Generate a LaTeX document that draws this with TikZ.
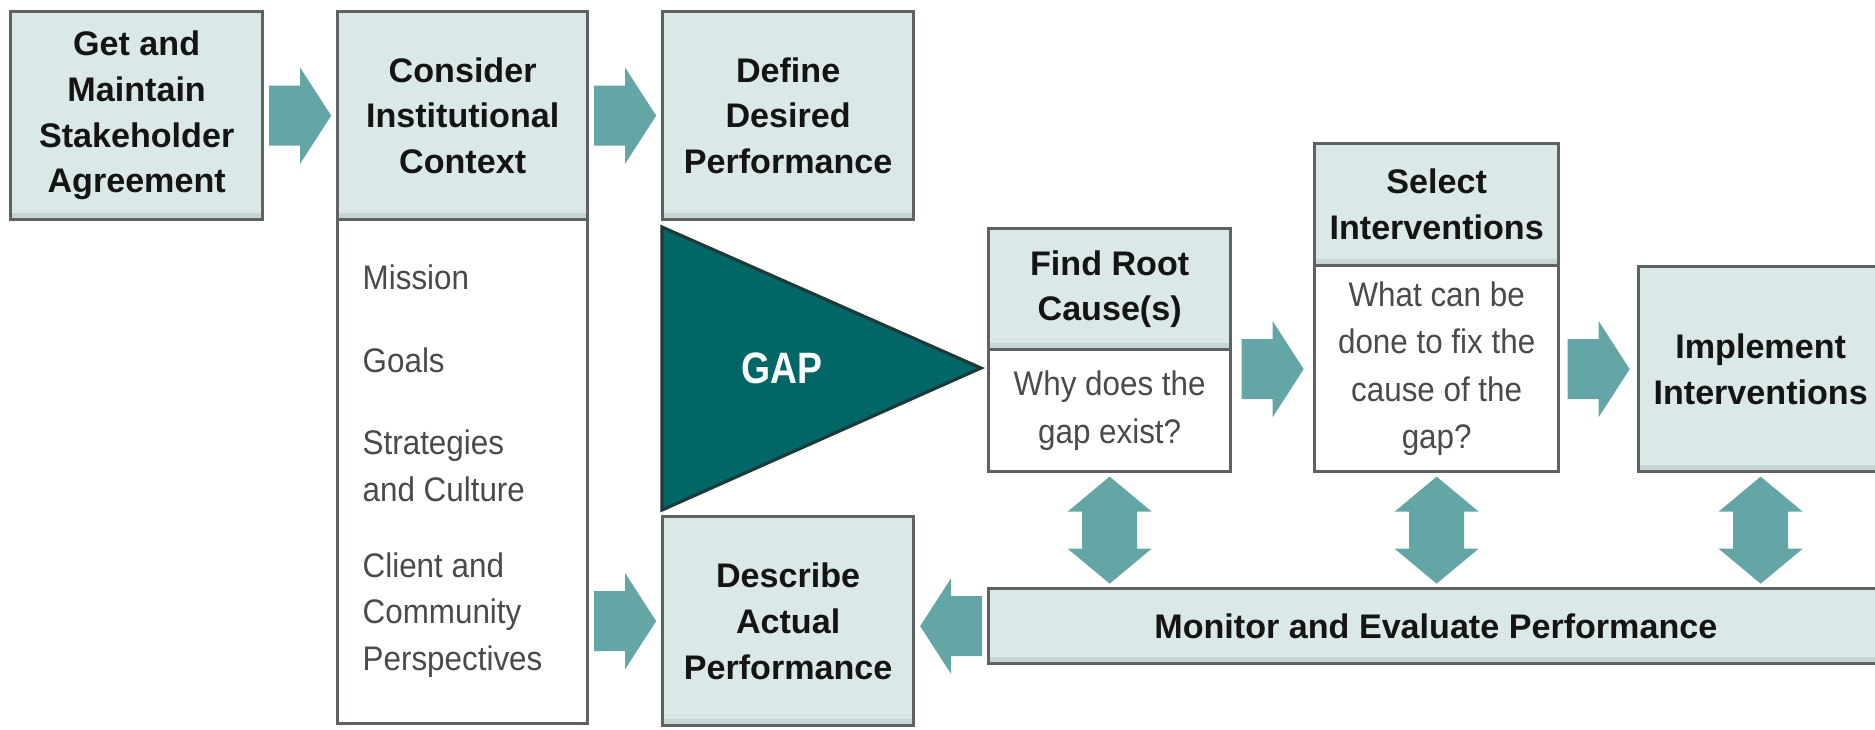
\documentclass[tikz,border=0pt]{standalone}
\usepackage{fontspec}
\setmainfont{Liberation Sans}
\newfontfamily\narrowfont[FakeStretch=0.92]{Liberation Sans}
\newfontfamily\gapfont[FakeStretch=0.85]{Liberation Sans}
\usetikzlibrary{calc}

\definecolor{boxfill}{HTML}{DAE8E8}
\definecolor{boxband}{HTML}{C6D6D6}
\definecolor{boxline}{HTML}{5E6262}
\definecolor{flowteal}{HTML}{64A6A6}
\definecolor{gapteal}{HTML}{006666}
\definecolor{gapline}{HTML}{1C3A3A}
\definecolor{bodytext}{HTML}{4A4A4A}

\tikzset{
  panel/.style={draw=boxline, line width=0.9pt, anchor=north west, inner sep=0pt, align=center},
  headbox/.style={panel, fill=boxfill, text=black!92,
    font=\fontsize{9.7}{13}\selectfont\bfseries,
    path picture={\fill[boxband]
      ($(path picture bounding box.south west)+(0,0.02cm)$) rectangle
      ($(path picture bounding box.south east)+(0,0.07cm)$);}},
  bodybox/.style={panel, fill=white, text=bodytext,
    font=\narrowfont\fontsize{9.7}{13.4}\selectfont},
  listitem/.style={anchor=west, inner sep=0pt, align=left, text=bodytext,
    font=\narrowfont\fontsize{9.7}{13.2}\selectfont},
  flow/.style={fill=flowteal},
}

% single block arrow, centred between two points and pointing from #1 to #2
\newcommand\blockarrow[2]{%
  \coordinate (ba-m) at ($#1!0.5!#2$);
  \coordinate (ba-t) at ($(ba-m)!0.31cm!#1$);
  \coordinate (ba-h) at ($(ba-m)!0.31cm!#2$);
  \fill[flow] ($(ba-t)!0.30cm!90:(ba-h)$) -- ($(ba-m)!0.30cm!90:(ba-h)$)
    -- ($(ba-m)!0.48cm!90:(ba-h)$) -- (ba-h)
    -- ($(ba-m)!0.48cm!-90:(ba-h)$) -- ($(ba-m)!0.30cm!-90:(ba-h)$)
    -- ($(ba-t)!0.30cm!-90:(ba-h)$) -- cycle;
}

% two-headed block arrow, centred between two points
\newcommand\twowayarrow[2]{%
  \coordinate (tw-m) at ($#1!0.5!#2$);
  \coordinate (tw-a) at ($(tw-m)!0.535cm!#1$);
  \coordinate (tw-b) at ($(tw-m)!0.535cm!#2$);
  \coordinate (tw-ab) at ($(tw-m)!0.185cm!#1$);
  \coordinate (tw-bb) at ($(tw-m)!0.185cm!#2$);
  \fill[flow] (tw-a) -- ($(tw-ab)!0.42cm!90:(tw-a)$) -- ($(tw-ab)!0.275cm!90:(tw-a)$)
    -- ($(tw-bb)!0.275cm!-90:(tw-b)$) -- ($(tw-bb)!0.42cm!-90:(tw-b)$)
    -- (tw-b) -- ($(tw-bb)!0.42cm!90:(tw-b)$) -- ($(tw-bb)!0.275cm!90:(tw-b)$)
    -- ($(tw-ab)!0.275cm!-90:(tw-a)$) -- ($(tw-ab)!0.42cm!-90:(tw-a)$) -- cycle;
}

\begin{document}
\begin{tikzpicture}[x=0.01cm, y=-0.01cm]
\useasboundingbox (0,0) rectangle (1875,729);
\clip (0,0) rectangle (1875,729);
\fill[white] (0,0) rectangle (1875,729);

% top row
\node[headbox, minimum width=2.52cm, minimum height=2.08cm] (b1) at (9,10)
  {Get and\\Maintain\\Stakeholder\\Agreement};
\node[bodybox, minimum width=2.50cm, minimum height=5.04cm] (ctx) at (336,218) {};
\node[headbox, minimum width=2.50cm, minimum height=2.08cm] (b2) at (336,10)
  {Consider\\Institutional\\Context};
\node[headbox, minimum width=2.51cm, minimum height=2.08cm] (b3) at (661,10)
  {Define\\Desired\\Performance};

% institutional context items
\node[listitem] (mission) at (362,277) {Mission};
\node[listitem] (goals) at (362,360) {Goals};
\node[listitem] (strat) at (362,466) {Strategies\\and Culture};
\node[listitem] (client) at (362,615) {Client and\\Community\\Perspectives};

% the gap
\draw[fill=gapteal, draw=gapline, line width=0.9pt]
  (662,227) coordinate (gtop) -- (981,368) coordinate (gtip)
  -- (662,510) coordinate (gbot) -- cycle;
\node[text=white, font=\gapfont\fontsize{12.5}{14}\selectfont\bfseries] (gaplabel) at (782,368) {GAP};

% actual performance
\node[headbox, minimum width=2.51cm, minimum height=2.09cm] (desc) at (661,515)
  {Describe\\Actual\\Performance};

% root causes and interventions
\node[bodybox, minimum width=2.42cm, minimum height=1.22cm] (frb) at (987,348)
  {Why does the\\gap exist?};
\node[headbox, minimum width=2.42cm, minimum height=1.21cm] (fr) at (987,227)
  {Find Root\\Cause(s)};
\node[bodybox, minimum width=2.44cm, minimum height=2.06cm] (selb) at (1313,264)
  {What can be\\done to fix the\\cause of the\\gap?};
\node[headbox, minimum width=2.44cm, minimum height=1.22cm] (sel) at (1313,142)
  {Select\\Interventions};
\node[headbox, minimum width=2.44cm, minimum height=2.05cm] (imp) at (1637,265)
  {Implement\\Interventions};

% monitoring bar
\node[headbox, minimum width=8.94cm, minimum height=0.75cm] (mon) at (987,587)
  {Monitor and Evaluate Performance};

% flow arrows
\blockarrow{(b1.east)}{(b2.west)}
\blockarrow{(b2.east)}{(b3.west)}
\coordinate (a3s) at (fr.east |- imp.west);
\coordinate (a3e) at (sel.west |- imp.west);
\blockarrow{(a3s)}{(a3e)}
\coordinate (a4s) at (selb.east |- imp.west);
\blockarrow{(a4s)}{(imp.west)}
\coordinate (a5s) at (ctx.east |- desc.west);
\blockarrow{(a5s)}{(desc.west)}
\coordinate (a6e) at (desc.east |- mon.west);
\blockarrow{(mon.west)}{(a6e)}

% feedback with monitoring
\coordinate (m1) at (frb.south |- mon.north);
\twowayarrow{(frb.south)}{(m1)}
\coordinate (m2) at (selb.south |- mon.north);
\twowayarrow{(selb.south)}{(m2)}
\coordinate (m3) at (imp.south |- mon.north);
\twowayarrow{(imp.south)}{(m3)}
\end{tikzpicture}
\end{document}
